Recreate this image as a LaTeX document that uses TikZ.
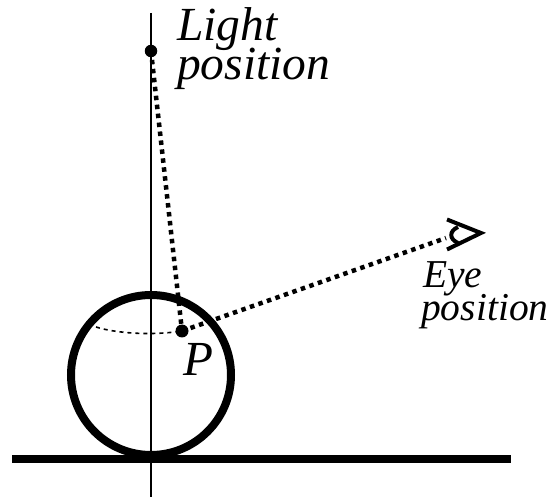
\documentclass[tikz,border=0pt]{standalone}
\usepackage{fontspec}
\setmainfont{Liberation Serif}
\begin{document}
\begin{tikzpicture}[x=1pt,y=-1pt,
  axisline/.style={line width=1.8pt},
  heavyline/.style={line width=7.5pt},
  ball/.style={line width=8pt},
  ray/.style={line width=4.5pt,dash pattern=on 4.5pt off 4.5pt},
  arcline/.style={line width=1.6pt,dash pattern=on 4pt off 4pt},
  eyeline/.style={line width=4pt},
  dotnode/.style={circle,fill=black,inner sep=0pt},
  lbl/.style={anchor=base west,inner sep=0pt,font=\itshape}]
\useasboundingbox (0,0) rectangle (552,497);
\coordinate (axisTop) at (151,13);
\coordinate (axisBot) at (151,497);
\coordinate (groundL) at (12,459);
\coordinate (groundR) at (511,459);
\coordinate (rim) at (96,327);
\coordinate (apex) at (481,233);
\coordinate (eyeU) at (447,219.5);
\coordinate (eyeD) at (447,249.5);
\coordinate (eyeC) at (446,238);
\draw[axisline] (axisTop) -- (axisBot);
\draw[heavyline] (groundL) -- (groundR);
\draw[ball] (151,375) circle (80);
\node[dotnode,minimum size=12.5pt] (light) at (151,51) {};
\node[dotnode,minimum size=13pt] (P) at (182,331) {};
\draw[arcline] (rim) .. controls (115,333) and (150,336) .. (P.center);
\draw[ray] (light.center) -- (P.center);
\draw[ray] (P.center) -- (eyeC);
\draw[eyeline,miter limit=10] (eyeU) -- (apex) -- (eyeD);
\draw[eyeline] (458,227) .. controls (449,231) and (449,239) .. (458,243);
\node[lbl,font=\itshape\fontsize{47.5}{47.5}\selectfont] (t1) at (177,41) {Light};
\node[lbl,font=\itshape\fontsize{47.5}{47.5}\selectfont] (t2) at (177,80) {position};
\node[lbl,font=\itshape\fontsize{39.5}{39.5}\selectfont] (t3) at (423,288) {Eye};
\node[lbl,font=\itshape\fontsize{39.5}{39.5}\selectfont] (t4) at (421,320) {position};
\node[lbl,font=\itshape\fontsize{49}{49}\selectfont] (t5) at (183,375.5) {P};
\end{tikzpicture}
\end{document}
